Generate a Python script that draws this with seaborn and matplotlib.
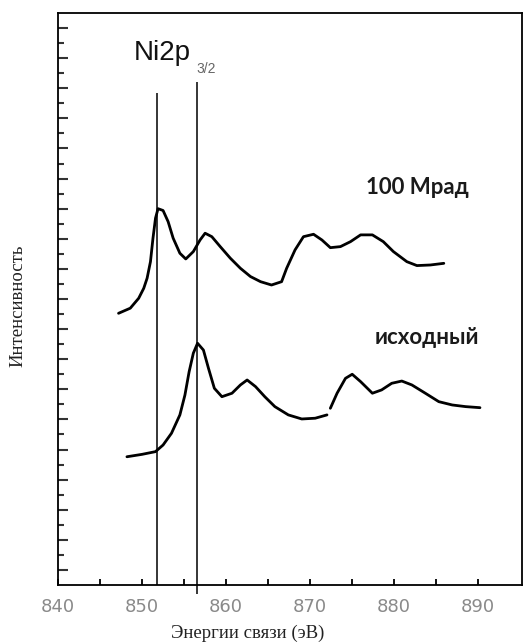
import numpy as np
import pandas as pd
import matplotlib
matplotlib.use("Agg")
import matplotlib.pyplot as plt
import seaborn as sns

# ---- data ----
irr_x = [847.2, 848.6, 849.6, 850.2, 850.6, 851.0, 851.3, 851.6, 851.9, 852.5,
         853.1, 853.7, 854.5, 855.2, 856.1, 856.9, 857.5, 858.3, 859.3, 860.5,
         861.7, 862.9, 864.1, 865.4, 866.6, 867.2, 868.2, 869.2, 870.4, 871.4,
         872.4, 873.6, 874.8, 876.0, 877.4, 878.7, 879.9, 881.5, 882.7, 884.3,
         885.9]
irr_y = [18.05, 18.39, 19.05, 19.71, 20.38, 21.48, 23.04, 24.37, 25.00, 24.88,
         24.14, 23.04, 22.04, 21.66, 22.15, 22.92, 23.37, 23.14, 22.48, 21.71,
         21.04, 20.49, 20.15, 19.93, 20.15, 21.04, 22.26, 23.14, 23.30, 22.92,
         22.41, 22.48, 22.81, 23.26, 23.26, 22.81, 22.15, 21.48, 21.22, 21.26,
         21.37]

orig_x_a = [848.2, 850.0, 851.6, 852.5, 853.5, 854.5, 855.1, 855.6, 856.1, 856.6,
            857.3, 857.9, 858.6, 859.5, 860.7, 861.7, 862.5, 863.5, 864.6, 865.8,
            867.4, 869.0, 870.6, 872.0]
orig_y_a = [8.52, 8.68, 8.86, 9.30, 10.08, 11.30, 12.62, 14.17, 15.40, 16.06,
            15.61, 14.40, 13.07, 12.51, 12.74, 13.29, 13.62, 13.18, 12.51, 11.85,
            11.30, 11.03, 11.08, 11.30]
orig_x_b = [872.4, 873.2, 874.2, 875.0, 876.0, 877.4, 878.5, 879.7, 880.9, 882.1,
            883.7, 885.3, 886.9, 888.5, 890.2]
orig_y_b = [11.74, 12.74, 13.73, 14.00, 13.51, 12.74, 12.96, 13.40, 13.55, 13.29,
            12.74, 12.18, 11.96, 11.85, 11.78]

ref_lines_x = [851.8, 856.5]
x_ticks = [840, 850, 860, 870, 880, 890]

# ---- build long table ----
frames = [
    pd.DataFrame({"E": irr_x, "I": irr_y, "seg": "irr"}),
    pd.DataFrame({"E": orig_x_a, "I": orig_y_a, "seg": "orig_a"}),
    pd.DataFrame({"E": orig_x_b, "I": orig_y_b, "seg": "orig_b"}),
]
df = pd.concat(frames, ignore_index=True)

sns.set_theme(style="white")
plt.rcParams["font.family"] = ["DejaVu Sans"]

fig = plt.figure(figsize=(5.31, 6.44), dpi=100)
ax = fig.add_axes([58 / 531, 59 / 644, 464 / 531, 572 / 644])

sns.lineplot(data=df, x="E", y="I", hue="seg",
             palette={"irr": "black", "orig_a": "black", "orig_b": "black"},
             estimator=None, sort=False, linewidth=2.0, legend=False, ax=ax)
for ln in ax.get_lines():
    ln.set_solid_joinstyle("round")
    ln.set_solid_capstyle("round")

ax.set_xlim(840, 895.2)
ax.set_ylim(0, 38)

# reference vertical lines
ax.vlines(ref_lines_x[0], 0, 32.7, color="black", linewidth=1.1)
ax.vlines(ref_lines_x[1], -0.6, 33.4, color="black", linewidth=1.1, clip_on=False)

# ticks
ax.set_xticks(x_ticks)
ax.set_xticks(np.arange(845, 895, 10), minor=True)
ax.set_xticklabels([str(t) for t in x_ticks])
ax.set_yticks(np.arange(1, 38, 2))
ax.set_yticks(np.arange(2, 38, 2), minor=True)
ax.set_yticklabels([])
ax.tick_params(axis="x", which="both", direction="in", length=4, width=1.3,
               color="black", labelsize=13, labelcolor="#8a8a8a", pad=9,
               bottom=True)
ax.tick_params(axis="y", which="major", direction="in", length=7, width=1.5,
               color="#333333", left=True)
ax.tick_params(axis="y", which="minor", direction="in", length=4, width=1.5,
               color="#333333", left=True)

for s in ax.spines.values():
    s.set_color("black")
    s.set_linewidth(1.3)
    s.set_visible(True)

ax.set_xlabel("")
ax.set_ylabel("")

# texts
fig.text(134 / 531, 1 - 53 / 644, "Ni2p", family="Liberation Sans", fontsize=20,
         color="#111111", va="center", ha="left")
fig.text(196 / 531, 1 - 69 / 644, "3/2", family="Liberation Sans", fontsize=10,
         color="#666666", va="center", ha="left")
fig.text(417 / 531, 1 - 187 / 644, "100 Мрад", family="Lato", fontweight="bold",
         fontsize=16, color="#1a1a1a", va="center", ha="center")
fig.text(427 / 531, 1 - 337 / 644, "исходный", family="Lato", fontweight="bold",
         fontsize=16, color="#1a1a1a", va="center", ha="center")
fig.text(248 / 531, 1 - 633 / 644, "Энергии связи (эВ)", family="Liberation Serif",
         fontsize=13.5, color="#222222", va="center", ha="center")
fig.text(18 / 531, 1 - 306 / 644, "Интенсивность", family="Liberation Serif",
         fontsize=13.5, color="#222222", va="center", ha="center", rotation=90)

fig.savefig("out.png", dpi=100)
